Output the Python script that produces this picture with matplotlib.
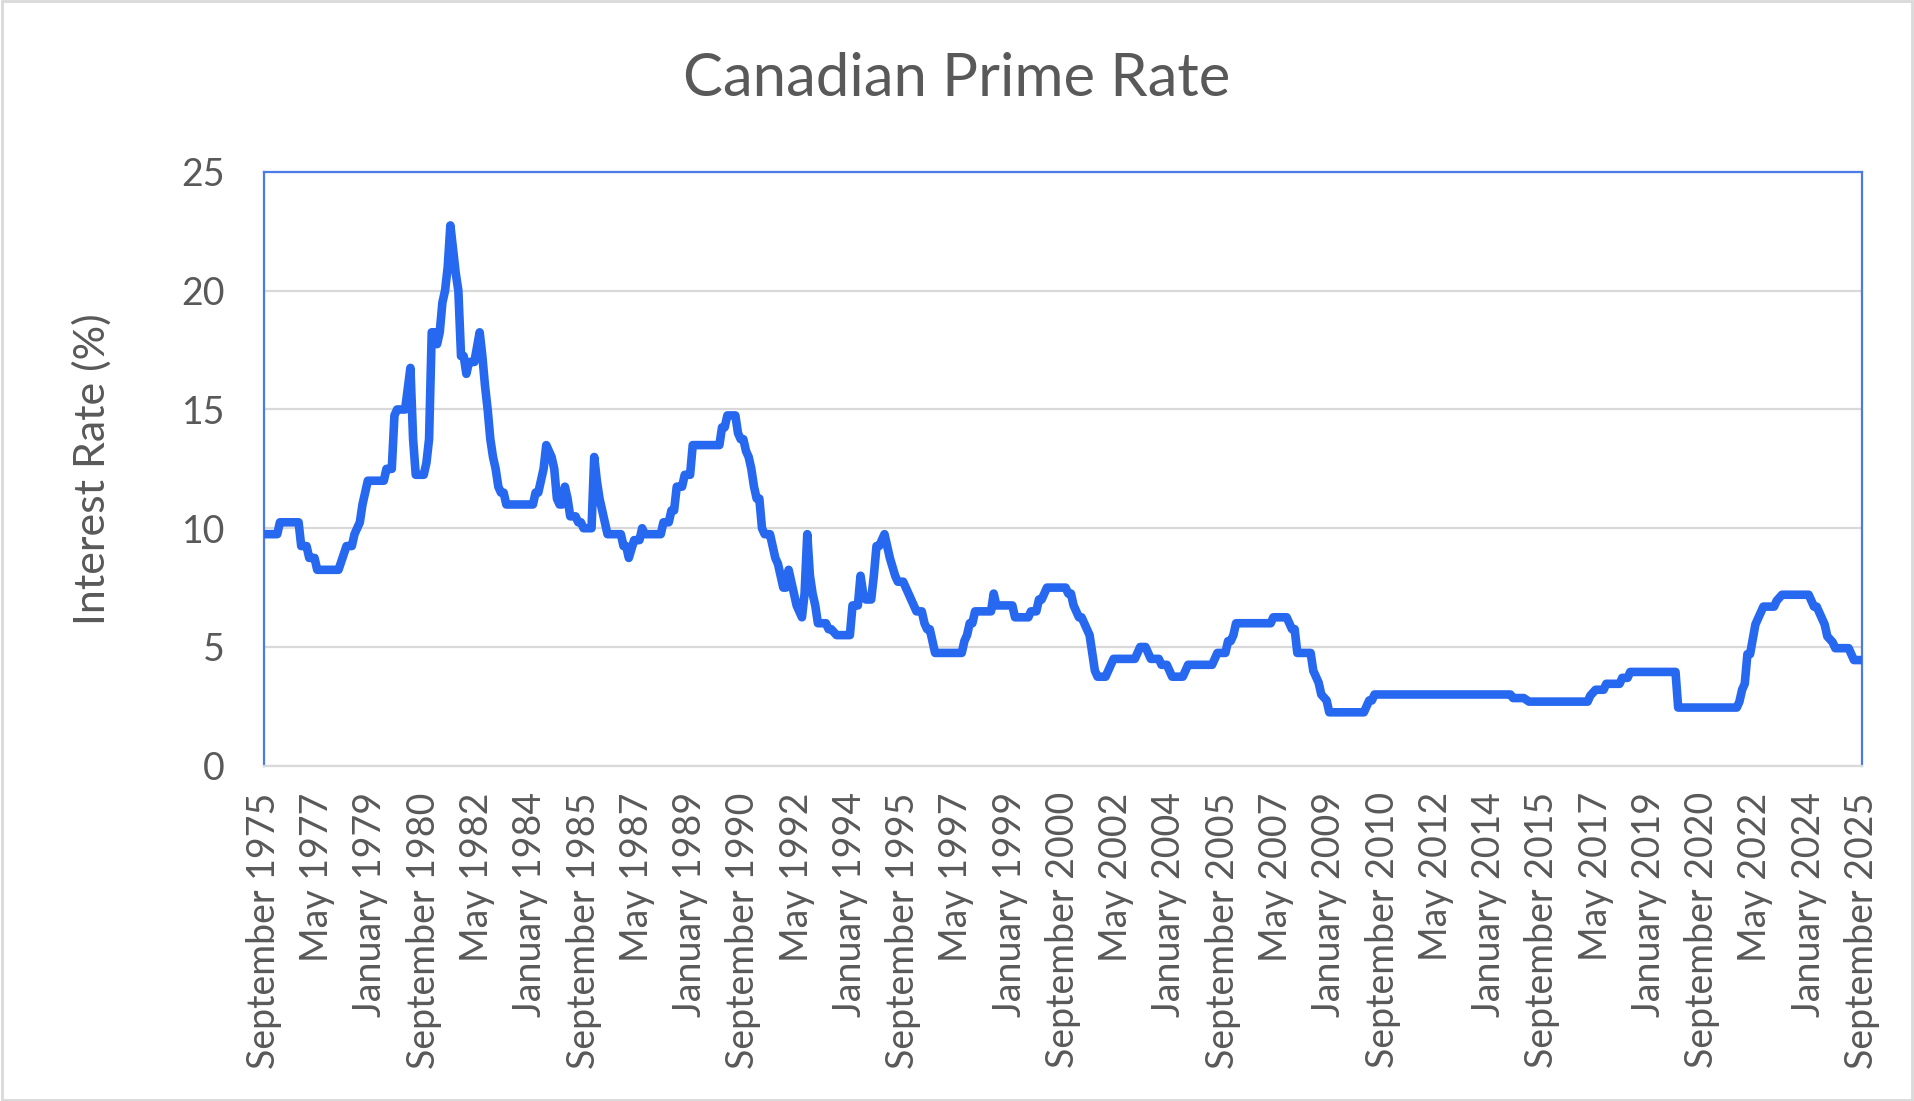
import matplotlib
matplotlib.use("Agg")
import matplotlib.pyplot as plt
from matplotlib.patches import Rectangle

# months counted from September 1975 (0) to September 2025 (600)
month_index = [
    0, 5, 6, 13, 14, 16, 17, 19, 20, 28, 31, 33, 34, 36, 37, 38, 39, 45, 46, 48,
    49, 50, 53, 55, 56, 57, 60, 61, 62, 63, 64, 65, 66, 67, 68, 69, 70, 71, 72, 73,
    74, 75, 76, 77, 79, 81, 82, 83, 84, 85, 86, 87, 88, 89, 90, 91, 101, 102, 103, 104,
    105, 106, 107, 108, 109, 110, 111, 112, 113, 114, 115, 117, 118, 119, 120, 123, 124, 125, 126, 128,
    129, 134, 135, 136, 137, 139, 141, 142, 143, 149, 150, 152, 153, 154, 155, 157, 158, 160, 161, 171,
    172, 173, 174, 177, 178, 179, 180, 181, 182, 183, 184, 185, 186, 187, 188, 190, 191, 192, 193, 194,
    195, 196, 197, 198, 199, 200, 201, 202, 203, 204, 205, 206, 207, 208, 211, 212, 213, 215, 220, 221,
    223, 224, 225, 226, 228, 229, 230, 231, 233, 234, 235, 237, 238, 240, 241, 242, 243, 245, 247, 248,
    249, 250, 251, 252, 262, 263, 264, 265, 266, 267, 273, 274, 275, 276, 281, 282, 287, 288, 290, 291,
    292, 293, 294, 301, 302, 303, 304, 305, 306, 307, 308, 309, 310, 311, 312, 313, 316, 317, 318, 319,
    327, 328, 329, 331, 332, 333, 336, 337, 338, 339, 340, 341, 345, 346, 347, 356, 357, 358, 361, 362,
    363, 364, 365, 378, 379, 384, 385, 386, 387, 388, 393, 394, 396, 397, 399, 400, 413, 414, 415, 416,
    417, 468, 469, 473, 475, 497, 498, 500, 503, 504, 509, 510, 512, 513, 530, 531, 553, 554, 555, 556,
    557, 558, 560, 561, 562, 563, 567, 568, 570, 580, 581, 582, 583, 584, 586, 587, 589, 590, 595, 596,
    597, 600,
]
prime_rate = [
    9.75, 9.75, 10.25, 10.25, 9.25, 9.25, 8.75, 8.75, 8.25, 8.25, 9.25, 9.25, 9.75, 10.25, 11.0, 11.5, 12.0, 12.0, 12.5, 12.5,
    14.75, 15.0, 15.0, 16.75, 13.75, 12.25, 12.25, 12.75, 13.75, 18.25, 18.25, 17.75, 18.25, 19.5, 20.0, 21.0, 22.75, 21.75, 20.75, 20.0,
    17.25, 17.25, 16.5, 17.0, 17.0, 18.25, 17.25, 16.0, 15.0, 13.75, 13.0, 12.5, 11.75, 11.5, 11.5, 11.0, 11.0, 11.5, 11.5, 12.0,
    12.5, 13.5, 13.25, 13.0, 12.5, 11.25, 11.0, 11.0, 11.75, 11.25, 10.5, 10.5, 10.25, 10.25, 10.0, 10.0, 13.0, 12.0, 11.25, 10.25,
    9.75, 9.75, 9.25, 9.25, 8.75, 9.5, 9.5, 10.0, 9.75, 9.75, 10.25, 10.25, 10.75, 10.75, 11.75, 11.75, 12.25, 12.25, 13.5, 13.5,
    14.25, 14.25, 14.75, 14.75, 14.0, 13.75, 13.75, 13.25, 13.0, 12.5, 11.75, 11.25, 11.25, 10.0, 9.75, 9.75, 9.25, 8.75, 8.5, 8.0,
    7.5, 7.5, 8.25, 7.75, 7.25, 6.75, 6.5, 6.25, 7.25, 9.75, 8.0, 7.25, 6.75, 6.0, 6.0, 5.75, 5.75, 5.5, 5.5, 6.75,
    6.75, 8.0, 7.25, 7.0, 7.0, 8.0, 9.25, 9.25, 9.75, 9.25, 8.75, 8.0, 7.75, 7.75, 7.5, 7.25, 7.0, 6.5, 6.5, 6.0,
    5.75, 5.75, 5.25, 4.75, 4.75, 5.25, 5.5, 6.0, 6.0, 6.5, 6.5, 7.25, 6.75, 6.75, 6.75, 6.25, 6.25, 6.5, 6.5, 7.0,
    7.0, 7.25, 7.5, 7.5, 7.25, 7.25, 6.75, 6.5, 6.25, 6.25, 6.0, 5.75, 5.5, 4.75, 4.0, 3.75, 3.75, 4.0, 4.25, 4.5,
    4.5, 4.75, 5.0, 5.0, 4.75, 4.5, 4.5, 4.25, 4.25, 4.25, 4.0, 3.75, 3.75, 4.0, 4.25, 4.25, 4.5, 4.75, 4.75, 5.25,
    5.25, 5.5, 6.0, 6.0, 6.25, 6.25, 6.0, 5.75, 5.75, 4.75, 4.75, 4.0, 3.5, 3.0, 2.75, 2.25, 2.25, 2.5, 2.75, 2.75,
    3.0, 3.0, 2.85, 2.85, 2.7, 2.7, 2.95, 3.2, 3.2, 3.45, 3.45, 3.7, 3.7, 3.95, 3.95, 2.45, 2.45, 2.7, 3.2, 3.45,
    4.7, 4.7, 5.95, 6.2, 6.45, 6.7, 6.7, 6.95, 7.2, 7.2, 6.95, 6.7, 6.7, 6.45, 5.95, 5.45, 5.2, 4.95, 4.95, 4.7,
    4.45, 4.45,
]

month_names = ["January", "February", "March", "April", "May", "June", "July",
               "August", "September", "October", "November", "December"]
tick_pos = list(range(0, 601, 20))
tick_labels = [f"{month_names[(8 + i) % 12]} {1975 + (8 + i) // 12}" for i in tick_pos]

text_color = "#595959"
plt.rcParams["font.family"] = ["Lato", "DejaVu Sans"]

fig = plt.figure(figsize=(19.14, 11.01), dpi=100)
ax = fig.add_axes([0.1379, 0.3045, 0.8349, 0.5393])

ax.plot(month_index, prime_rate, color="#2768F0", lw=6.2,
        solid_joinstyle="round", solid_capstyle="round", zorder=3)

ax.set_xlim(0, 600)
ax.set_ylim(0, 25)
ax.set_yticks([0, 5, 10, 15, 20, 25])
ax.set_xticks(tick_pos)
ax.set_xticklabels(tick_labels, rotation=90, ha="center", va="top")
ax.tick_params(axis="both", length=0, labelsize=27, labelcolor=text_color)
ax.tick_params(axis="x", pad=19)
ax.tick_params(axis="y", pad=28)
ax.grid(axis="y", color="#D9D9D9", lw=1.6, zorder=0)
ax.set_axisbelow(True)

for side in ["left", "top", "right"]:
    ax.spines[side].set_color("#4A7BE8")
    ax.spines[side].set_linewidth(1.6)
ax.spines["bottom"].set_color("#D9D9D9")
ax.spines["bottom"].set_linewidth(1.6)

ax.set_ylabel("Interest Rate (%)", fontsize=31, color=text_color)
ax.yaxis.set_label_coords(-0.095, 0.5)
fig.text(0.5, 0.928, "Canadian Prime Rate", ha="center", va="center",
         fontsize=43, color=text_color)

fig.patches.append(Rectangle((0.001, 0.001), 0.998, 0.998, transform=fig.transFigure,
                             fill=False, edgecolor="#D9D9D9", lw=2))

fig.savefig("out.png", dpi=100, facecolor="white")
